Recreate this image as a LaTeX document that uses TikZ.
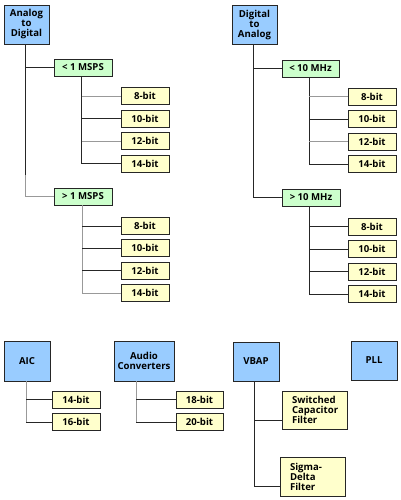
\documentclass[tikz,border=0pt]{standalone}
\usepackage{fontspec}
\setmainfont{Open Sans}
\begin{document}
\begin{tikzpicture}[x=1pt,y=-1pt,
  every node/.style={font=\fontsize{9.6}{10}\selectfont\bfseries, inner sep=0pt, draw=black!85, line width=0.9pt},
  bluebox/.style={fill={rgb,255:red,153;green,204;blue,255}, minimum width=45pt, minimum height=39pt, align=center},
  greenbox/.style={fill={rgb,255:red,204;green,255;blue,204}, minimum width=58pt, minimum height=17pt},
  yelbox/.style={fill={rgb,255:red,255;green,255;blue,204}, minimum width=48pt, minimum height=17pt},
  filtbox/.style={fill={rgb,255:red,255;green,255;blue,204}, minimum width=65pt, minimum height=38pt, align=left, text width=45pt},
  ln/.style={draw=black!85, line width=0.9pt},
  lg/.style={draw=black!40, line width=0.9pt}]
\useasboundingbox (0,0) rectangle (400,500);
% Analog to Digital
\node[bluebox] (ad) at (26.5,24.5) {Analog\\to\\Digital};
\node[greenbox] (lt1) at (83,67.5) {< 1 MSPS};
\node[yelbox] (a1) at (145,96) {8-bit};
\node[yelbox] (a2) at (145,118.5) {10-bit};
\node[yelbox] (a3) at (145,141) {12-bit};
\node[yelbox] (a4) at (145,163.5) {14-bit};
\node[greenbox] (gt1) at (83,196.5) {> 1 MSPS};
\node[yelbox] (b1) at (145,226) {8-bit};
\node[yelbox] (b2) at (145,248) {10-bit};
\node[yelbox] (b3) at (145,270.5) {12-bit};
\node[yelbox] (b4) at (145,293) {14-bit};
% Digital to Analog
\node[bluebox] (da) at (254.5,25) {Digital\\to\\Analog};
\node[greenbox, minimum width=57pt] (lt10) at (310.5,68.5) {< 10 MHz};
\node[yelbox] (c1) at (372,96.5) {8-bit};
\node[yelbox] (c2) at (372,119) {10-bit};
\node[yelbox] (c3) at (372,141.5) {12-bit};
\node[yelbox] (c4) at (372,164) {14-bit};
\node[greenbox] (gt10) at (311,197.5) {> 10 MHz};
\node[yelbox] (d1) at (372,226.5) {8-bit};
\node[yelbox] (d2) at (372,249) {10-bit};
\node[yelbox] (d3) at (372,271.5) {12-bit};
\node[yelbox] (d4) at (372,294) {14-bit};
% bottom
\node[bluebox, minimum width=46pt, minimum height=40pt] (aic) at (27,361) {AIC};
\node[yelbox] (e1) at (76,399.5) {14-bit};
\node[yelbox] (e2) at (76,422) {16-bit};
\node[bluebox, minimum width=60pt, minimum height=40pt] (aud) at (144,361) {Audio\\Converters};
\node[yelbox, minimum width=47pt] (f1) at (199.5,399.5) {18-bit};
\node[yelbox, minimum width=47pt] (f2) at (199.5,422) {20-bit};
\node[bluebox, minimum width=46pt] (vbap) at (256,361.5) {VBAP};
\node[filtbox] (scf) at (314.5,410) {Switched\\Capacitor\\Filter};
\node[filtbox, minimum height=39pt] (sdf) at (312.5,476.5) {Sigma-\\Delta\\Filter};
\node[bluebox, minimum width=46pt] (pll) at (374,360.5) {PLL};
% trunks
\coordinate (adk) at ([xshift=-1.5pt]ad.south |- 0,175);
\draw[ln] ([xshift=-1.5pt]ad.south) -- (adk);
\draw[lg] (adk) |- (gt1.west);
\draw[ln] ([xshift=-1.5pt]ad.south |- lt1.west) -- (lt1.west);
\draw[ln] ([xshift=-1.5pt]lt1.south) -- ([xshift=-1.5pt]lt1.south |- a4.west) -- (a4.west);
\draw[lg] ([xshift=-1.5pt]lt1.south |- a1.west) -- (a1.west);
\draw[ln] ([xshift=-1.5pt]lt1.south |- a2.west) -- (a2.west);
\draw[lg] ([xshift=-1.5pt]lt1.south |- a3.west) -- (a3.west);
\draw[lg] ([xshift=-1pt]gt1.south) -- ([xshift=-1pt]gt1.south |- b4.west) -- (b4.west);
\draw[ln] ([xshift=-1pt]gt1.south |- b1.west) -- (b1.west);
\draw[ln] ([xshift=-1pt]gt1.south |- b2.west) -- (b2.west);
\draw[ln] ([xshift=-1pt]gt1.south |- b3.west) -- (b3.west);
\draw[ln] ([xshift=-1.5pt]da.south) |- (gt10.west);
\draw[ln] ([xshift=-1.5pt]da.south |- lt10.west) -- (lt10.west);
\draw[ln] ([xshift=-1.5pt]lt10.south) -- ([xshift=-1.5pt]lt10.south |- c4.west) -- (c4.west);
\draw[lg] ([xshift=-1.5pt]lt10.south |- c1.west) -- (c1.west);
\draw[ln] ([xshift=-1.5pt]lt10.south |- c2.west) -- (c2.west);
\draw[lg] ([xshift=-1.5pt]lt10.south |- c3.west) -- (c3.west);
\draw[ln] ([xshift=-2pt]gt10.south) -- ([xshift=-2pt]gt10.south |- d4.west) -- (d4.west);
\draw[ln] ([xshift=-2pt]gt10.south |- d1.west) -- (d1.west);
\draw[ln] ([xshift=-2pt]gt10.south |- d2.west) -- (d2.west);
\draw[ln] ([xshift=-2pt]gt10.south |- d3.west) -- (d3.west);
\draw[lg] ([xshift=-1pt]aic.south) -- ([xshift=-1pt]aic.south |- e2.west);
\draw[ln] ([xshift=-1pt]aic.south |- e1.west) -- (e1.west);
\draw[ln] ([xshift=-1pt]aic.south |- e2.west) -- (e2.west);
\draw[lg] ([xshift=-8pt]aud.south) -- ([xshift=-8pt]aud.south |- f2.west);
\draw[ln] ([xshift=-8pt]aud.south |- f1.west) -- (f1.west);
\draw[ln] ([xshift=-8pt]aud.south |- f2.west) -- (f2.west);
\draw[ln] ([xshift=-2pt]vbap.south) |- ([yshift=-10pt]scf.west);
\draw[ln] ([xshift=-2pt]vbap.south) |- ([yshift=-9.5pt]sdf.west);
\end{tikzpicture}
\end{document}
